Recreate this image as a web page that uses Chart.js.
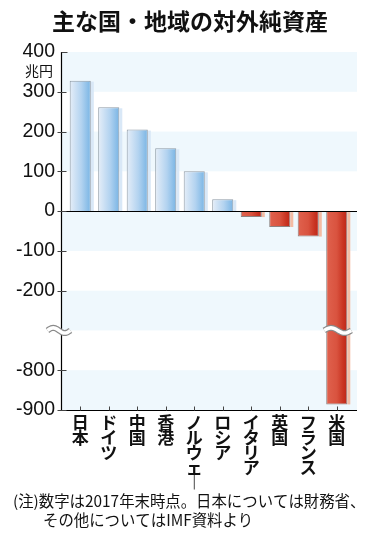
<!DOCTYPE html>
<html><head><meta charset="utf-8">
<script src="https://cdn.jsdelivr.net/npm/chart.js@4.4.1/dist/chart.umd.min.js"></script>
<style>html,body{margin:0;padding:0;background:#fff;}#wrap{width:380px;height:540px;position:relative;}canvas{display:block;}</style>
</head><body><div id="wrap"><canvas id="c" width="380" height="540" style="width:380px;height:540px"></canvas></div>
<script>
// ---- data ----
const titleText = '主な国・地域の対外純資産';
const unitLabel = '兆円';
const categories = ['日本','ドイツ','中国','香港','ノルウェー','ロシア','イタリア','英国','フランス','米国'];
const values = [328, 261, 205, 158, 100, 30, -15, -40, -64, -886];
const yTickValues = [400, 300, 200, 100, 0, -100, -200, -800, -900];
const noteLines = ['(注)数字は2017年末時点。日本については財務省、', 'その他についてはIMF資料より'];
// axis break: values from -200 down to -800 are squeezed into two steps, break drawn in the middle
const breakUpper = -200, breakLower = -800, breakSqueeze = 400;

const FONT = '"Noto Sans CJK JP", "Noto Sans", sans-serif';
const NUMFONT = '"Liberation Sans", Arial, sans-serif';
const BAR_PCT = 0.74;
const toAxis = v => (v <= breakLower ? v + breakSqueeze : v);
const fromAxis = a => (a <= breakLower + breakSqueeze ? a - breakSqueeze : a);
const breakAxisValue = (breakUpper + breakLower + breakSqueeze) / 2; // -300 on axis
const vertical = s => s.replace(/ー/g, '\uFE31').split('');

const deco = {
  id: 'deco',
  beforeDatasetsDraw(chart) {
    const c = chart.ctx, x = chart.scales.x, y = chart.scales.y;
    const L = x.left - 5, R = x.right + 6;
    c.save();
    c.fillStyle = '#eff8fd';
    for (let k = y.min; k < y.max; k += 100) {
      if (Math.abs((k / 100) % 2) === 1) {
        const t = y.getPixelForValue(k + 100), b = y.getPixelForValue(k);
        c.fillRect(L, t, R - L, b - t);
      }
    }
    const meta = chart.getDatasetMeta(0);
    meta.data.forEach((el, i) => {
      const top = Math.min(el.y, el.base), bot = Math.max(el.y, el.base);
      c.fillStyle = values[i] >= 0 ? '#d9e8f7' : '#f4bca4';
      c.fillRect(el.x + el.width / 2, top + 1, 3, bot - top - 1);
    });
    c.restore();
  },
  afterDatasetsDraw(chart) {
    const c = chart.ctx, x = chart.scales.x, y = chart.scales.y;
    const L = x.left - 5, R = x.right + 6;
    const ax = Math.round(L) + 0.5;
    c.save();
    c.strokeStyle = '#000'; c.lineWidth = 1.2;
    const z = Math.round(y.getPixelForValue(0)) + 0.5;
    c.beginPath(); c.moveTo(L, z); c.lineTo(R, z); c.stroke();
    const bt = Math.round(y.bottom) + 0.5;
    c.beginPath(); c.moveTo(L, bt); c.lineTo(R, bt); c.stroke();
    c.beginPath(); c.moveTo(ax, y.top); c.lineTo(ax, bt); c.stroke();
    c.strokeStyle = '#444'; c.lineWidth = 1;
    y.ticks.forEach((t, i) => {
      const py = Math.round(y.getPixelForValue(t.value)) + 0.5;
      c.beginPath();
      if (i === 0) { c.moveTo(ax, py); c.lineTo(ax + 6, py); }
      else { c.moveTo(ax - 4, py); c.lineTo(ax + 5, py); }
      c.stroke();
    });
    categories.forEach((_, i) => {
      const px = Math.round(x.getPixelForValue(i)) + 0.5;
      c.beginPath(); c.moveTo(px, bt); c.lineTo(px, bt - 4); c.stroke();
    });
    const by = y.getPixelForValue(breakAxisValue);
    const wave = (x0, x1) => {
      const pts = [];
      for (let s = 0; s <= 24; s++) {
        const t = s / 24;
        pts.push([x0 + (x1 - x0) * t, by - 2.6 * Math.sin(2 * Math.PI * t)]);
      }
      [['#8a8a8a', 6], ['#fff', 3.6]].forEach(([col, w]) => {
        c.strokeStyle = col; c.lineWidth = w; c.lineCap = 'butt';
        c.beginPath(); pts.forEach((p, k) => k ? c.lineTo(p[0], p[1]) : c.moveTo(p[0], p[1])); c.stroke();
      });
    };
    wave(ax - 14, ax + 9);
    const meta = chart.getDatasetMeta(0);
    meta.data.forEach((el, i) => {
      if (values[i] <= breakLower) wave(el.x - el.width / 2 - 2, el.x + el.width / 2 + 4);
    });
    c.restore();
  },
  afterDraw(chart) {
    const c = chart.ctx, y = chart.scales.y;
    c.save();
    c.fillStyle = '#111';
    c.font = '14px ' + FONT;
    c.textAlign = 'right'; c.textBaseline = 'middle';
    c.fillText(unitLabel, 53, y.getPixelForValue(400) + 19);
    c.font = '15.4px ' + FONT;
    c.textAlign = 'left';
    c.fillText(noteLines[0], 13, 501);
    c.fillText(noteLines[1], 43, 520);
    c.restore();
  }
};

new Chart(document.getElementById('c'), {
  type: 'bar',
  plugins: [deco],
  data: {
    labels: categories.map(vertical),
    datasets: [{
      data: values.map(toAxis),
      barPercentage: BAR_PCT,
      categoryPercentage: 1,
      borderWidth: 1,
      borderSkipped: 'start',
      borderColor: ctx => (values[ctx.dataIndex] >= 0 ? '#8e9aa6' : '#8d8180'),
      backgroundColor: ctx => {
        const chart = ctx.chart, xs = chart.scales.x;
        const i = ctx.dataIndex;
        if (!xs || i === undefined) return '#9cc8ec';
        const cx = xs.getPixelForValue(i);
        const w = xs.width / categories.length * BAR_PCT;
        if (!isFinite(cx) || !isFinite(w) || w <= 0) return values[i] >= 0 ? '#9cc8ec' : '#d44a36';
        const g = chart.ctx.createLinearGradient(cx - w / 2, 0, cx + w / 2, 0);
        if (values[i] >= 0) {
          g.addColorStop(0, '#e6eef8'); g.addColorStop(0.55, '#b3d3f0'); g.addColorStop(1, '#78b4e4');
        } else {
          g.addColorStop(0, '#e0624e'); g.addColorStop(0.5, '#d9533f'); g.addColorStop(0.8, '#c93422'); g.addColorStop(1, '#bd2618');
        }
        return g;
      }
    }]
  },
  options: {
    responsive: false,
    animation: false,
    events: [],
    devicePixelRatio: 1,
    layout: { padding: 0 },
    plugins: {
      legend: { display: false },
      tooltip: { enabled: false },
      title: {
        display: true, text: titleText, color: '#111',
        font: { family: FONT, size: 23, weight: 'bold', lineHeight: 1.2 },
        padding: { top: 7, bottom: 17.4 }
      }
    },
    scales: {
      x: {
        grid: { display: false, drawTicks: false },
        border: { display: false },
        ticks: {
          color: '#111', padding: 5, maxRotation: 0, autoSkip: false,
          font: { family: FONT, size: 17, weight: 'bold', lineHeight: '15px' }
        },
        afterFit: s => { s.height = 130; }
      },
      y: {
        min: toAxis(-900), max: 400,
        grid: { display: false, drawTicks: false },
        border: { display: false },
        afterBuildTicks: s => { s.ticks = yTickValues.map(v => ({ value: toAxis(v) })); },
        ticks: {
          color: '#111', padding: 11,
          font: { family: NUMFONT, size: 19.5 },
          callback: v => String(fromAxis(v))
        },
        afterFit: s => { s.width = 66; }
      },
      yPad: {
        position: 'right', display: true,
        grid: { display: false, drawTicks: false }, border: { display: false },
        ticks: { display: false },
        afterFit: s => { s.width = 29; }
      }
    }
  }
});
</script></body></html>
